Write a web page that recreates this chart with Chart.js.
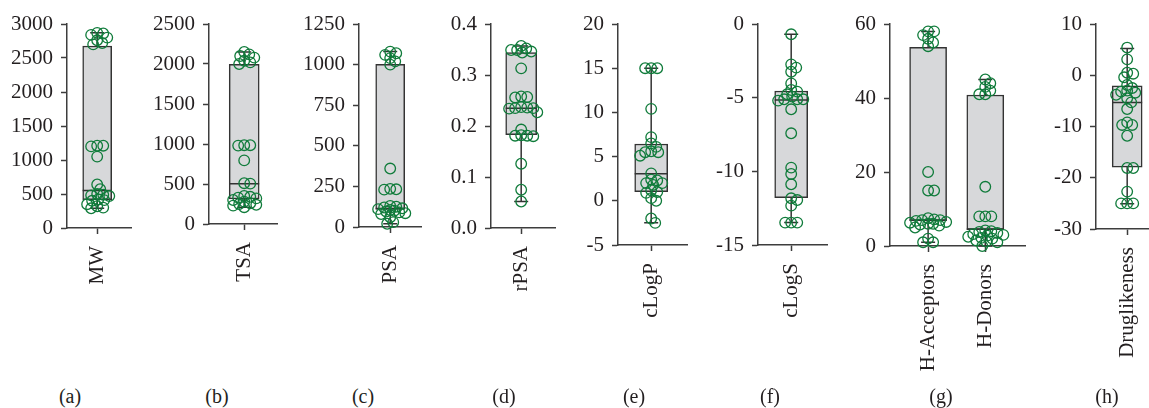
<!DOCTYPE html>
<html>
<head>
<meta charset="utf-8">
<script src="https://cdn.jsdelivr.net/npm/chart.js@4.4.0/dist/chart.umd.min.js"></script>
<style>
    body { margin: 0; background: #fff; }
    #wrap { position: relative; width: 1149px; height: 408px; overflow: hidden; font-family: "Liberation Serif", serif; }
    #wrap canvas { position: absolute; top: 0; }
    .tag { position: absolute; top: 385px; font-size: 20px; color: #231f20; transform: translateX(-50%); }
</style>
</head>
<body>
<div id="wrap"></div>
<script>
// values, one array per property
const mwPoints = [2870, 2860, 2840, 2800, 2760, 2720, 2700, 1210, 1210, 1200, 1050, 640, 570, 500, 490, 480, 470, 420, 410, 400, 350, 320, 300, 290];
const tsaPoints = [2150, 2120, 2100, 2080, 2040, 2020, 2000, 985, 985, 980, 795, 510, 505, 350, 340, 330, 320, 300, 280, 260, 250, 240, 230, 210];
const psaPoints = [1080, 1070, 1060, 1040, 1020, 1000, 360, 235, 232, 230, 130, 125, 120, 115, 110, 105, 100, 95, 90, 85, 80, 60, 30, 20];
const rpsaPoints = [0.357, 0.352, 0.349, 0.349, 0.346, 0.344, 0.313, 0.258, 0.257, 0.256, 0.237, 0.236, 0.235, 0.235, 0.234, 0.227, 0.193, 0.182, 0.181, 0.181, 0.180, 0.126, 0.075, 0.052];
const clogpPoints = [15, 15, 15, 10.4, 7.2, 6.5, 6.1, 5.6, 5.5, 5.5, 5.1, 3.1, 2.4, 2.3, 2.0, 2.0, 1.8, 1.2, 1.0, 0.9, 0.3, 0.0, -2.0, -2.5];
const clogsPoints = [-0.7, -2.74, -2.96, -3.24, -4.03, -4.48, -4.59, -4.77, -4.93, -5.11, -5.11, -5.11, -5.2, -5.79, -7.42, -9.75, -10.18, -10.88, -11.83, -11.95, -12.33, -13.48, -13.48, -13.48];
const accPoints = [58, 58, 57, 56, 55, 54, 20, 15, 15, 7.5, 7.2, 7, 7, 6.8, 6.5, 6.3, 6, 6, 5.8, 5.5, 5, 2, 1, 1];
const donPoints = [45, 44, 43, 42, 41, 41, 16, 8, 8, 8, 4.2, 4, 3.8, 3.5, 3.2, 3, 2.8, 2.5, 2.2, 2, 1.5, 1.2, 1, 0];
const drugPoints = [5.4, 3.1, 0.5, 0.3, -0.4, -1.9, -2.5, -3.0, -3.2, -3.4, -3.8, -4.5, -5.3, -6.6, -9.2, -9.7, -9.7, -11.8, -18.1, -18.1, -22.7, -25, -25, -25];

// box stats: [min, q1, median, q3, max]
const mwBox = [290, 416, 553, 2677, 2870];
const tsaBox = [210, 312, 503, 1997, 2150];
const psaBox = [20, 108, 114, 1001, 1080];
const rpsaBox = [0.052, 0.183, 0.235, 0.344, 0.357];
const clogpBox = [-2.47, 1.03, 3.07, 6.43, 15];
const clogsBox = [-13.48, -11.79, -5.16, -4.55, -0.7];
const accBox = [1, 6.8, 7, 53.7, 58];
const donBox = [0, 4.4, 4.6, 40.8, 45];
const drugBox = [-25.06, -17.92, -5.32, -2.08, 5.2];

const panelTags = ["(a)", "(b)", "(c)", "(d)", "(e)", "(f)", "(g)", "(h)"];

// layout of the eight panels (pixels)
const panels = [
    { names: ["MW"], sets: [mwPoints], boxes: [mwBox], yMin: 0, yMax: 3000, step: 500, axisX: 67, right: 131, bottom: 228, ticksX: [30], boxW: 29, tagX: 70 },
    { names: ["TSA"], sets: [tsaPoints], boxes: [tsaBox], yMin: 0, yMax: 2500, step: 500, axisX: 209, right: 277, bottom: 224, ticksX: [35], boxW: 30, tagX: 217 },
    { names: ["PSA"], sets: [psaPoints], boxes: [psaBox], yMin: 0, yMax: 1250, step: 250, axisX: 359, right: 421, bottom: 227, ticksX: [31], boxW: 29, tagX: 363 },
    { names: ["rPSA"], sets: [rpsaPoints], boxes: [rpsaBox], yMin: 0, yMax: 0.4, step: 0.1, axisX: 491, right: 555, bottom: 228, ticksX: [30], boxW: 31, tagX: 504, fixed: 1 },
    { names: ["cLogP"], sets: [clogpPoints], boxes: [clogpBox], yMin: -5, yMax: 20, step: 5, axisX: 618, right: 687, bottom: 245, ticksX: [33], boxW: 33, tagX: 634 },
    { names: ["cLogS"], sets: [clogsPoints], boxes: [clogsBox], yMin: -15, yMax: 0, step: 5, axisX: 758, right: 827, bottom: 245, ticksX: [33], boxW: 33, tagX: 770 },
    { names: ["H-Acceptors", "H-Donors"], sets: [accPoints, donPoints], boxes: [accBox, donBox], yMin: 0, yMax: 60, step: 20, axisX: 890, right: 1025, bottom: 246, ticksX: [38, 95], boxW: 37, tagX: 941 },
    { names: ["Druglikeness"], sets: [drugPoints], boxes: [drugBox], yMin: -30, yMax: 10, step: 10, axisX: 1096, right: 1165, bottom: 229, ticksX: [31], boxW: 30, tagX: 1107 },
];

const TOP = 24;
const YW = 64;
const CH = 385;
const ink = "#231f20";
const axisColor = "#3d3d3d";
const green = "#0f7b3a";
const font = { family: '"Liberation Serif", "DejaVu Serif", serif', size: 21 };

// simple beeswarm kept inside the box width; deterministic, no randomness
function swarm(values, pxPerUnit, minDist, limit) {
    const placed = [];
    const out = new Array(values.length);
    const order = values.map((v, i) => i).sort((a, b) => values[b] - values[a]);
    order.forEach((i) => {
        const y = values[i] * pxPerUnit;
        let best = 0, bestGap = -1;
        for (let k = 0; k <= limit * 2; k++) {
            const c = k === 0 ? 0 : (k % 2 ? Math.ceil(k / 2) : -Math.ceil(k / 2));
            const gap = placed.reduce((m, p) => Math.min(m, Math.hypot(p.x - c, p.y - y)), Infinity);
            if (gap >= minDist) { best = c; bestGap = gap; break; }
            if (gap > bestGap + 0.5) { best = c; bestGap = gap; }
        }
        placed.push({ x: best, y });
        out[i] = best;
    });
    return out;
}

const boxPlot = {
    id: "boxPlot",
    beforeDatasetDraw(chart, args) {
        const ds = chart.data.datasets[args.index];
        if (!ds.stats) return;
        const { ctx, scales: { x, y } } = chart;
        ctx.save();
        ctx.strokeStyle = "#333";
        ctx.lineWidth = 1.5;
        ds.stats.forEach((s, i) => {
            const px = x.getPixelForValue(ds.data[i].x);
            ctx.beginPath();
            ctx.moveTo(px, y.getPixelForValue(s[0]));
            ctx.lineTo(px, y.getPixelForValue(s[4]));
            ctx.stroke();
        });
        ctx.restore();
    },
    afterDatasetDraw(chart, args) {
        const ds = chart.data.datasets[args.index];
        if (!ds.stats) return;
        const { ctx, scales: { x, y } } = chart;
        const half = ds.barThickness / 2;
        ctx.save();
        ctx.strokeStyle = "#333";
        ctx.lineWidth = 1.5;
        ds.stats.forEach((s, i) => {
            const px = x.getPixelForValue(ds.data[i].x);
            const ym = y.getPixelForValue(s[2]);
            ctx.beginPath();
            ctx.moveTo(px - half, ym);
            ctx.lineTo(px + half, ym);
            [s[0], s[4]].forEach((v) => {
                const yy = y.getPixelForValue(v);
                ctx.moveTo(px - 7, yy);
                ctx.lineTo(px + 7, yy);
            });
            ctx.stroke();
        });
        ctx.restore();
    },
};

const wrap = document.getElementById("wrap");

function buildPanel(p, width, points) {
    const canvas = document.createElement("canvas");
    canvas.width = width;
    canvas.height = CH;
    canvas.style.width = width + "px";
    canvas.style.height = CH + "px";
    canvas.style.left = (p.axisX - YW) + "px";
    wrap.appendChild(canvas);

    return new Chart(canvas.getContext("2d"), {
        type: "scatter",
        data: {
            datasets: [
                {
                    type: "scatter",
                    data: points,
                    order: 1,
                    clip: false,
                    pointRadius: 5.3,
                    pointBorderWidth: 1.3,
                    pointBorderColor: green,
                    pointBackgroundColor: "rgba(0,0,0,0)",
                },
                {
                    type: "bar",
                    data: p.boxes.map((b, g) => ({ x: p.ticksX[g], y: [b[1], b[3]] })),
                    stats: p.boxes,
                    order: 2,
                    clip: false,
                    barThickness: p.boxW,
                    backgroundColor: "#d7d8da",
                    borderColor: "#333",
                    borderWidth: 1.5,
                    borderSkipped: false,
                },
            ],
        },
        options: {
            responsive: false,
            maintainAspectRatio: false,
            animation: false,
            devicePixelRatio: 1,
            layout: { padding: { top: TOP, left: 0, right: 0, bottom: 0 } },
            plugins: { legend: { display: false }, tooltip: { enabled: false } },
            scales: {
                x: {
                    type: "linear",
                    min: 0,
                    max: p.right - p.axisX,
                    offset: false,
                    afterBuildTicks: (s) => { s.ticks = p.ticksX.map((v) => ({ value: v })); },
                    afterFit: (s) => {
                        s.height = CH - p.bottom;
                        s.paddingLeft = 0;
                        s.paddingRight = 0;
                    },
                    grid: { display: true, offset: false, drawOnChartArea: false, drawTicks: true, tickLength: 6, tickColor: axisColor, tickWidth: 1.5 },
                    border: { display: true, color: axisColor, width: 1.5 },
                    ticks: {
                        autoSkip: false,
                        minRotation: 90,
                        maxRotation: 90,
                        padding: 12,
                        color: ink,
                        font: font,
                        callback: (v, i) => p.names[i],
                    },
                },
                y: {
                    type: "linear",
                    min: p.yMin,
                    max: p.yMax,
                    afterFit: (s) => {
                        s.width = YW;
                        s.paddingTop = 0;
                        s.paddingBottom = 0;
                    },
                    grid: { display: true, drawOnChartArea: false, drawTicks: true, tickLength: 6, tickColor: axisColor, tickWidth: 1.5 },
                    border: { display: true, color: axisColor, width: 1.5 },
                    ticks: {
                        stepSize: p.step,
                        padding: 8,
                        color: ink,
                        font: font,
                        callback: (v) => (p.fixed ? v.toFixed(p.fixed) : String(v)),
                    },
                },
            },
        },
        plugins: [boxPlot],
    });
}

panels.forEach((p, n) => {
    const w = YW + (p.right - p.axisX);

    const pxPerUnit = (p.bottom - TOP) / (p.yMax - p.yMin);
    const points = [];
    p.sets.forEach((vals, g) => {
        const offs = swarm(vals, pxPerUnit, 5.5, Math.round(p.boxW / 2));
        vals.forEach((v, i) => points.push({ x: p.ticksX[g] + offs[i], y: v }));
    });

    // the layout keeps a few px back on the right; rebuild wider so the plot area ends where it should
    let chart = buildPanel(p, w, points);
    const short = Math.round(w - chart.chartArea.right);
    if (short > 0) {
        const old = chart.canvas;
        chart.destroy();
        old.remove();
        chart = buildPanel(p, w + short, points);
    }

    const tag = document.createElement("div");
    tag.className = "tag";
    tag.style.left = p.tagX + "px";
    tag.textContent = panelTags[n];
    wrap.appendChild(tag);
});
</script>
</body>
</html>
